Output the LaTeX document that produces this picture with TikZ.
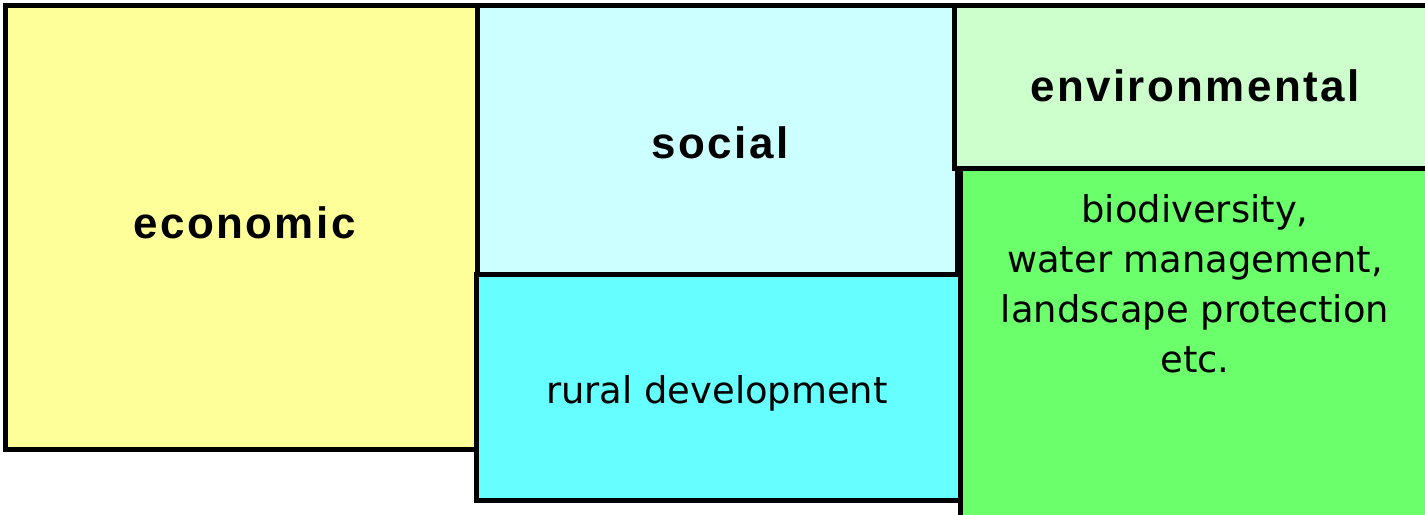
\documentclass[tikz,border=0pt]{standalone}
\usepackage{fontspec}
\setmainfont{DejaVu Sans}
\newfontfamily\headfont[LetterSpace=5.5]{Liberation Sans}
\definecolor{econfill}{HTML}{FFFF99}
\definecolor{socfill}{HTML}{CCFFFF}
\definecolor{ruralfill}{HTML}{66FFFF}
\definecolor{envfill}{HTML}{CCFFCC}
\definecolor{biofill}{HTML}{6BFF6B}
\begin{document}
\begin{tikzpicture}[x=0.02cm,y=-0.02cm]

\def\px{0.02cm}
\tikzstyle{area} = [
	draw=black, line width=5*\px, rectangle,
	inner sep=0pt, outer sep=0pt ];
\tikzstyle{head} = [inner sep=0pt, anchor=base,
	font=\headfont\bfseries\fontsize{25}{30}\selectfont];
\tikzstyle{body} = [inner sep=0pt, align=center,
	font=\fontsize{21}{28.45}\selectfont];
\useasboundingbox (0,0) rectangle (1425,514);

\node[area,fill=econfill,minimum width=475*\px,minimum height=444*\px] (econ) at (243,227.5) {};
\node[area,fill=socfill,minimum width=480*\px,minimum height=269*\px] (soc) at (717.5,140) {};
\node[area,fill=ruralfill,minimum width=484.5*\px,minimum height=226*\px] (rural) at (718.25,387.5) {};
\node[area,fill=envfill,minimum width=481.5*\px,minimum height=162.5*\px] (env) at (1195.25,86.75) {};
\node[area,fill=biofill,minimum width=470*\px,minimum height=371.5*\px] (bio) at (1195,354.25) {};

% labels
\node[head] (econtxt) at (244.5,238) {economic};
\node[head] (soctxt) at (720,158) {social};
\node[head] (envtxt) at (1195,101) {environmental};
\node[body,anchor=base] (ruraltxt) at (717,403) {rural development};
\node[body,anchor=north] (biotxt) at (1195,194) {biodiversity,\\ water management,\\ landscape protection\\ etc.};

\end{tikzpicture}
\end{document}
